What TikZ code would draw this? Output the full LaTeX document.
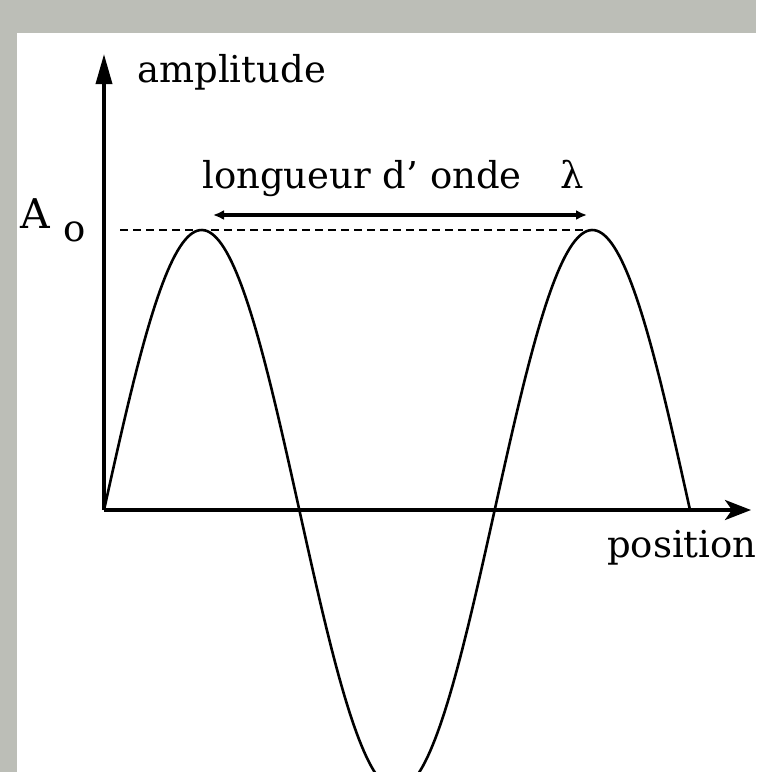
\documentclass[tikz,border=0pt]{standalone}
\usepackage{fontspec}
\setmainfont{DejaVu Serif}
\usetikzlibrary{arrows.meta}
\definecolor{framegray}{RGB}{188,190,183}
\tikzset{
  lbl/.style={inner sep=0pt, anchor=base west, font=\fontsize{37}{40}\selectfont},
  axis/.style={line width=3.5pt},
  wave/.style={line width=2.6pt},
  guide/.style={line width=2.8pt, dash pattern=on 8pt off 5pt},
  wlarrow/.style={line width=3.5pt, {Latex[length=11pt,width=10pt]}-{Latex[length=11pt,width=10pt]}}
}
\begin{document}
\begin{tikzpicture}[x=1pt,y=-1pt]
\useasboundingbox (0,0) rectangle (756,772);
\fill[framegray] (0,0) rectangle (756,772);
\fill[white] (17,33) rectangle (756,772);
\clip (17,33) rectangle (756,772);
% coordinates
\coordinate (O) at (104,510);
\coordinate (ytop) at (104,54);
\coordinate (xend) at (751,510);
\coordinate (d1) at (120,230);
\coordinate (d2) at (586,230);
\coordinate (w1) at (213,215);
\coordinate (w2) at (587,215);
% dashed guide
\draw[guide] (d1) -- (d2);
% axes
\draw[axis, -{Triangle[length=30pt,width=16pt]}] (O) -- (ytop);
\draw[axis, -{Stealth[length=26pt,width=20pt,inset=7pt]}] (O) -- (xend);
% wave
\draw[wave, line join=round] plot[domain=0:540, samples=240] ({104+\x*1.08519}, {510-280*sin(\x)});
% wavelength arrow
\draw[wlarrow] (w1) -- (w2);
% labels
\node[lbl] (amp) at (137,82) {amplitude};
\node[lbl] (wl) at (202,188) {longueur d’ onde};
\node[lbl] (lam) at (560,188) {λ};
\node[lbl] (pos) at (607,557) {position};
\node[lbl] (A) at (20,228) {\fontsize{41}{44}\selectfont A};
\node[lbl] (Ao) at (63,241) {o};
\end{tikzpicture}
\end{document}
